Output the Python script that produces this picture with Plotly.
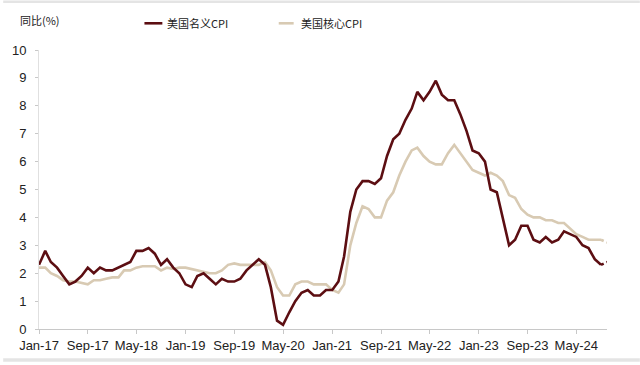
import pandas as pd
import plotly.graph_objects as go

# ---- data ----
months = pd.date_range("2017-01-01", periods=94, freq="MS")

headline_cpi = [
    2.3, 2.8, 2.4, 2.2, 1.9, 1.6, 1.7, 1.9, 2.2, 2.0, 2.2, 2.1,   # 2017
    2.1, 2.2, 2.3, 2.4, 2.8, 2.8, 2.9, 2.7, 2.3, 2.5, 2.2, 2.0,   # 2018
    1.6, 1.5, 1.9, 2.0, 1.8, 1.6, 1.8, 1.7, 1.7, 1.8, 2.1, 2.3,   # 2019
    2.5, 2.3, 1.5, 0.3, 0.15, 0.6, 1.0, 1.3, 1.4, 1.2, 1.2, 1.4,  # 2020
    1.4, 1.7, 2.6, 4.2, 5.0, 5.3, 5.3, 5.2, 5.4, 6.2, 6.8, 7.0,   # 2021
    7.5, 7.9, 8.5, 8.2, 8.5, 8.9, 8.4, 8.2, 8.2, 7.7, 7.1, 6.4,   # 2022
    6.3, 6.0, 5.0, 4.9, 4.0, 3.0, 3.2, 3.7, 3.7, 3.2, 3.1, 3.3,   # 2023
    3.1, 3.2, 3.5, 3.4, 3.3, 3.0, 2.9, 2.5, 2.3, 2.4,             # 2024
]

core_cpi = [
    2.2, 2.2, 2.0, 1.9, 1.75, 1.7, 1.7, 1.65, 1.6, 1.75, 1.75, 1.8,  # 2017
    1.85, 1.85, 2.1, 2.1, 2.2, 2.25, 2.25, 2.25, 2.1, 2.2, 2.15, 2.2,  # 2018
    2.2, 2.15, 2.1, 2.05, 2.0, 2.0, 2.1, 2.3, 2.35, 2.3, 2.3, 2.3,   # 2019
    2.3, 2.4, 2.1, 1.5, 1.2, 1.2, 1.6, 1.7, 1.7, 1.6, 1.6, 1.6,      # 2020
    1.4, 1.3, 1.6, 3.0, 3.8, 4.4, 4.3, 4.0, 4.0, 4.6, 4.9, 5.5,      # 2021
    6.0, 6.4, 6.5, 6.2, 6.0, 5.9, 5.9, 6.3, 6.6, 6.3, 6.0, 5.7,      # 2022
    5.6, 5.5, 5.6, 5.5, 5.3, 4.8, 4.7, 4.3, 4.1, 4.0, 4.0, 3.9,      # 2023
    3.9, 3.8, 3.8, 3.6, 3.4, 3.3, 3.2, 3.2, 3.2, 3.1,                # 2024
]

series_names = ["美国名义CPI", "美国核心CPI"]
y_title = "同比(%)"
tick_dates = pd.date_range("2017-01-01", "2024-05-01", freq="8MS")
tick_labels = [d.strftime("%b-%y") for d in tick_dates]
y_ticks = list(range(0, 11))

# ---- style ----
RED = "#5C0E12"
BEIGE = "#D8CAB3"
FONT = "Liberation Sans, Arial, sans-serif"
CJK = "Noto Sans CJK SC, Liberation Sans, sans-serif"

L, R, T, B = 36, 33, 50, 33
W, H = 640, 365
pw, ph = W - L - R, H - T - B


def px_x(px):
    return (px - L) / pw


def px_y(py):
    return (H - B - py) / ph


fig = go.Figure()
split = len(months) - 2
for vals, color, name in [(core_cpi, BEIGE, series_names[1]), (headline_cpi, RED, series_names[0])]:
    fig.add_trace(go.Scatter(x=months[: split + 1], y=vals[: split + 1], mode="lines",
                             line=dict(color=color, width=2.6), name=name, showlegend=False))
    fig.add_trace(go.Scatter(x=months[split:], y=vals[split:], mode="lines",
                             line=dict(color=color, width=2.6, dash="dot"), name=name, showlegend=False))

# manual legend
shapes = []
annotations = []
for (x0, x1, tx), color, name in [((142, 160, 163), RED, series_names[0]), ((277, 292, 297), BEIGE, series_names[1])]:
    shapes.append(dict(type="line", xref="paper", yref="paper", x0=px_x(x0), x1=px_x(x1),
                       y0=px_y(23), y1=px_y(23), line=dict(color=color, width=2.6)))
    annotations.append(dict(xref="paper", yref="paper", x=px_x(tx), y=px_y(23), text=name,
                            showarrow=False, xanchor="left", yanchor="middle",
                            font=dict(family=CJK, size=11, color="#222")))
annotations.append(dict(xref="paper", yref="paper", x=px_x(15), y=px_y(20), text=y_title,
                        showarrow=False, xanchor="left", yanchor="middle",
                        font=dict(family=CJK, size=11, color="#222")))
# light frame strips (top/bottom)
shapes.append(dict(type="rect", xref="paper", yref="paper", x0=px_x(0), x1=px_x(W), y0=px_y(2.5), y1=px_y(0),
                   fillcolor="#E4E4E4", line=dict(width=0), layer="below"))
shapes.append(dict(type="rect", xref="paper", yref="paper", x0=px_x(0), x1=px_x(W), y0=px_y(H), y1=px_y(361.5),
                   fillcolor="#E4E4E4", line=dict(width=0), layer="below"))

fig.update_layout(
    width=W, height=H,
    margin=dict(l=L, r=R, t=T, b=B),
    plot_bgcolor="white", paper_bgcolor="white",
    font=dict(family=FONT, size=13, color="#222"),
    shapes=shapes, annotations=annotations,
    xaxis=dict(type="date", range=[months[0], months[-1]], tickvals=tick_dates, ticktext=tick_labels,
               showgrid=False, zeroline=False, showline=True, linecolor="#C8C8C8", linewidth=1,
               ticks="outside", ticklen=4, tickcolor="#C8C8C8", tickfont=dict(size=13, color="#222")),
    yaxis=dict(range=[0, 10], tickvals=y_ticks, showgrid=False, zeroline=False,
               showline=True, linecolor="#E0E0E0", linewidth=1,
               ticks="outside", ticklen=3, tickcolor="#C8C8C8", ticklabelstandoff=6,
               tickfont=dict(size=13, color="#222")),
)

fig.write_html("out.html")
